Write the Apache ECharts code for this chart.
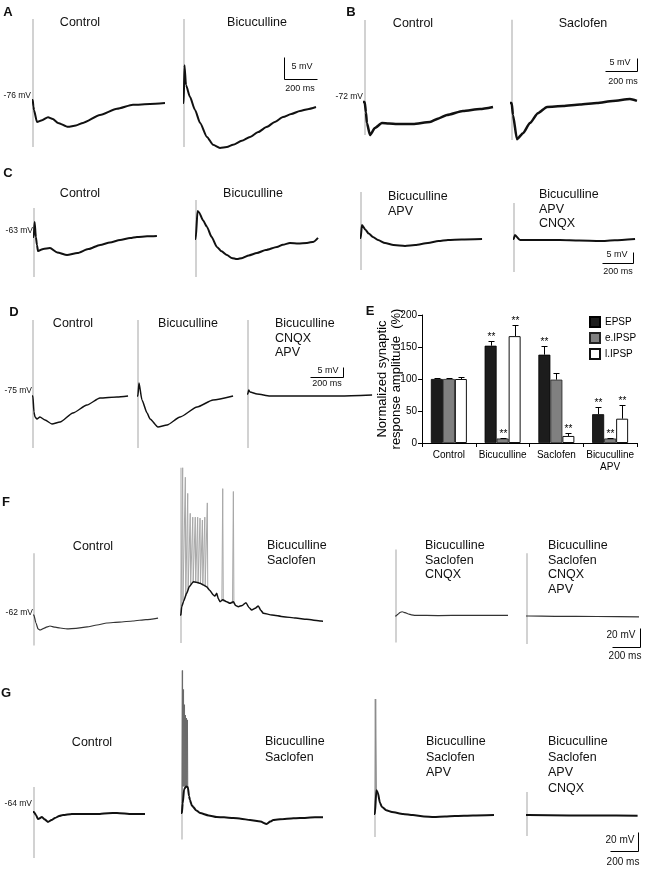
<!DOCTYPE html>
<html><head><meta charset="utf-8">
<script src="https://cdn.jsdelivr.net/npm/echarts/dist/echarts.min.js"></script>
<style>html,body{margin:0;padding:0;background:#fff}#c{width:645px;height:870px}</style>
</head><body><div id="c"></div>
<script>
// ---------------- Panel E (bar chart) data ----------------
const E_CATEGORIES = ['Control', 'Bicuculline', 'Saclofen', 'Bicuculline\nAPV'];
const E_SERIES = ['EPSP', 'e.IPSP', 'l.IPSP'];
const EPSP = [100, 152, 138, 45];
const EPSP_ERR = [2, 7, 13, 11];
const EPSP_SIG = [0, 1, 1, 1];
const EIPSP = [100, 7, 99, 7];
const EIPSP_ERR = [1, 1, 10, 1];
const EIPSP_SIG = [0, 1, 0, 1];
const LIPSP = [100, 167, 11, 38];
const LIPSP_ERR = [3, 17, 4, 22];
const LIPSP_SIG = [0, 1, 1, 1];
const E_TICKS = [0, 50, 100, 150, 200];

// ---------------- Traces: [time (ms), mV relative to rest] ----------------
// Panel A
const A1 = [[-18,0],[-2,0],[3,-1.5],[6,-2.3],[24,-5.0],[55,-4.6],[91,-3.9],[120,-4.3],[152,-5.2],[212,-6.1],[260,-5.8],[303,-5.2],[406,-3.4],[509,-2.0],[606,-1.1],[709,-0.9],[800,-0.7]];
const A1_ART = [18.4, -10.7];
const A2 = [[-12,0],[-2,0],[3,8.6],[12,4.1],[36,1.4],[67,-1.6],[97,-4.5],[139,-7.7],[176,-9.5],[218,-10.2],[260,-10.0],[297,-9.5],[350,-8.6],[400,-7.7],[450,-6.6],[503,-5.4],[550,-4.3],[600,-3.2],[650,-2.5],[703,-1.8],[750,-1.4],[800,-0.9]];
const A2_ART = [19.1, -10.0];
// Panel B
const B1 = [[-19,0],[-2,0],[6,-4],[12,-8.1],[31,-12.7],[62,-10.0],[106,-8.1],[150,-8.3],[200,-8.5],[300,-8.5],[406,-7.7],[460,-6.3],[512,-5.0],[612,-3.5],[719,-2.7],[800,-1.9]];
const B1_ART = [31.5, -12.7];
const B2 = [[-19,0],[-2,0],[6,-4.6],[31,-13.9],[69,-11.6],[112,-7.7],[162,-3.9],[219,-1.5],[319,-1.2],[425,-0.6],[531,0],[630,0.8],[737,1.5],[781,0.8]];
const B2_ART = [32, -14.2];
// Panel C
const C1 = [[-58,0],[-2,0],[4,6.8],[12,0],[19,-3.6],[26,-6.4],[60,-5.4],[103,-5.0],[150,-7.0],[213,-8.2],[280,-7.3],[350,-5.5],[426,-3.6],[490,-2.5],[555,-1.4],[620,-0.5],[664,0],[730,0.3],[793,0.5]];
const C1_ART = [13.2, -18.2];
const C2 = [[-71,0],[-2,0],[10,12.7],[19,12.2],[45,8.5],[71,5.5],[100,1.0],[135,-3.6],[165,-5.6],[200,-7.3],[230,-8.6],[264,-9.1],[300,-8.6],[340,-7.5],[393,-6.4],[450,-5.0],[522,-3.6],[560,-2.6],[606,-1.8],[660,-2.0],[716,-1.8],[760,-1.2],[787,0.5]];
const C2_ART = [17.7, -17.3];
const C3 = [[-71,0],[-2,0],[6,5.9],[30,3.6],[50,2.0],[77,0.5],[110,-0.9],[155,-2.3],[210,-3.2],[284,-3.6],[350,-3.2],[432,-2.3],[500,-1.4],[561,-0.9],[650,-0.7],[781,-0.5]];
const C3_ART = [20.9, -14.5];
const C4 = [[-58,0],[-2,0],[6,1.8],[39,-0.5],[150,-0.5],[297,-0.5],[420,-0.7],[555,-0.9],[650,-0.6],[781,0]];
const C4_ART = [16.4, -15];
// Panel D
const D1 = [[-6,0],[-1,0],[6,-8],[12,-10.5],[24,-11.5],[42,-10.5],[73,-12],[115,-14],[164,-13],[242,-8.5],[327,-4.5],[406,-1],[509,-0.5],[576,0]];
const D1_ART = [38, -26];
const D2 = [[-6,0],[-1,0],[6,6.5],[24,-2],[55,-8.5],[73,-11.5],[121,-15.5],[176,-14.5],[255,-10.5],[358,-5.5],[455,-2],[576,0]];
const D2_ART = [38, -26];
const D3 = [[-6,0],[-1,0],[4,2],[12,1],[55,0],[133,-1],[315,-1],[558,-1],[752,-0.5]];
const D3_ART = [37, -27];
// Panel F
const F1 = [[-14,0],[-1,0],[14,-8.4],[29,-14.7],[43,-15.8],[70,-14],[93,-12.6],[114,-11.6],[150,-12.8],[186,-13.7],[236,-14.7],[300,-14],[379,-12.6],[450,-10.5],[521,-8.4],[610,-7.4],[707,-6.3],[800,-4.8],[886,-3.2]];
const F1_ART = [65, -32];
const F2 = [[-21,0],[-1,0],[5,8.8],[20,15],[40,22.8],[60,30],[88,35],[110,34.5],[136,33.3],[160,31.5],[183,29.8],[205,26],[231,21],[243,20],[255,22.8],[267,17],[279,14],[298,16],[326,14],[350,12.3],[374,14],[390,10],[409,8.8],[437,10],[464,13],[485,8],[505,5.3],[530,7],[552,9.5],[570,5],[588,1.8],[650,0],[731,-1.8],[820,-3.2],[898,-4.6],[1000,-6.3],[1064,-7.4],[1200,-8.5],[1385,-9.5]];
const F2_ART = [155, -29.5];
const F2_BURST = [[0,0],[12,155],[14,15],[31,145],[34,20],[48,128],[51,27],[66,107],[69,32],[84,103],[87,35],[102,103],[105,35],[119,103],[122,34],[136,102],[139,33],[153,100],[156,32],[170,103],[173,31],[188,118],[191,29]];
const F2_SPIKE2 = [[292,15],[298,133],[302,14]];
const F2_SPIKE3 = [[368,12],[374,130],[378,12]];
const F3 = [[-21,0],[-1,0],[6,1],[16,2.1],[30,3.8],[45,4.5],[65,3.5],[88,2.1],[110,1.2],[136,0.7],[300,0.5],[500,0.7],[800,0.7]];
const F3_ART = [70, -28];
const F4 = [[-14,0],[-1,0],[10,0],[200,-0.3],[500,-0.5],[800,-1.0]];
const F4_ART = [66, -29.5];
// Panel G
const G1 = [[-29,0],[-1,0],[14,-3.2],[29,-7.4],[57,-5.3],[78,-8],[100,-10.5],[125,-8.5],[150,-6.3],[180,-4.2],[207,-3.2],[270,-2.1],[350,-2.1],[471,-2.1],[530,-1.2],[593,-1],[700,-2.1],[793,-2.1]];
const G1_ART = [26.3, -48.4];
const G2 = [[-50,0],[-1,0],[5,10],[15,25],[30,28],[42,27],[50,18],[57,13.7],[70,8],[81,6.3],[100,3],[129,0],[190,-2.5],[248,-4.2],[300,-4.6],[366,-5.3],[420,-6],[486,-7.4],[560,-9],[605,-11.6],[630,-9],[652,-7.4],[750,-6],[843,-5.3],[950,-4.6],[1057,-4.2]];
const G2_ART = [150, -28];
const G2_BURST = [[0,0],[4,150],[6,28],[11,130],[13,28],[18,114],[20,28],[25,103],[27,28],[32,100],[34,28],[39,98],[41,27]];
const G3 = [[-64,0],[-1,0],[10,25],[21,22.1],[35,12],[50,7.4],[80,4],[121,2.1],[200,0],[271,-1.1],[350,-2.5],[421,-3.2],[500,-2.5],[571,-2.1],[700,-1.6],[850,-1.1]];
const G3_ART = [121, -24.2];
const G3_SPIKE = [[1,0],[5,121],[10,25]];
const G4 = [[-29,0],[-1,0],[10,0],[300,-0.5],[500,-0.5],[790,-0.8]];
const G4_ART = [24.2, -22.1];

// scale bars (ms, mV)
const SCALE_MS = 200;

// ---------------- layout ----------------
const FONT = "'Liberation Sans', Arial, Helvetica, sans-serif";
const INK = '#111';
const ART = '#b4b4b4';

const panels = [
  {x0:33,  y0:100, sx:0.165, sy:4.4,  tr:A1, art:A1_ART, lw:2},
  {x0:184, y0:103, sx:0.165, sy:4.4,  tr:A2, art:A2_ART, lw:2},
  {x0:365, y0:102, sx:0.16,  sy:2.6,  tr:B1, art:B1_ART, lw:2.5},
  {x0:512, y0:103, sx:0.16,  sy:2.6,  tr:B2, art:B2_ART, lw:2.5},
  {x0:34,  y0:237, sx:0.155, sy:2.2,  tr:C1, art:C1_ART, lw:2},
  {x0:196, y0:239, sx:0.155, sy:2.2,  tr:C2, art:C2_ART, lw:2},
  {x0:361, y0:238, sx:0.155, sy:2.2,  tr:C3, art:C3_ART, lw:2},
  {x0:514, y0:239, sx:0.155, sy:2.2,  tr:C4, art:C4_ART, lw:2},
  {x0:33,  y0:396, sx:0.165, sy:2.0,  tr:D1, art:D1_ART, lw:1.5},
  {x0:138, y0:396, sx:0.165, sy:2.0,  tr:D2, art:D2_ART, lw:1.5},
  {x0:248, y0:394, sx:0.165, sy:2.0,  tr:D3, art:D3_ART, lw:1.5},
  {x0:34,  y0:615, sx:0.14,  sy:0.95, tr:F1, art:F1_ART, lw:1.2, color:'#333'},
  {x0:181, y0:615, sx:0.14,  sy:0.95, tr:F2, art:F2_ART, lw:1.5, extra:[F2_BURST, F2_SPIKE2, F2_SPIKE3], extraColor:'#a8a8a8'},
  {x0:396, y0:616, sx:0.14,  sy:0.95, tr:F3, art:F3_ART, lw:1.2, color:'#333'},
  {x0:527, y0:616, sx:0.14,  sy:0.95, tr:F4, art:F4_ART, lw:1.2, color:'#333'},
  {x0:34,  y0:812, sx:0.14,  sy:0.95, tr:G1, art:G1_ART, lw:2},
  {x0:182, y0:813, sx:0.14,  sy:0.95, tr:G2, art:G2_ART, lw:2, extra:[G2_BURST], extraColor:'#6a6a6a'},
  {x0:375, y0:814, sx:0.14,  sy:0.95, tr:G3, art:G3_ART, lw:2, extra:[G3_SPIKE], extraColor:'#8a8a8a'},
  {x0:527, y0:815, sx:0.14,  sy:0.95, tr:G4, art:G4_ART, lw:2}
];

const grids = [{left:422, top:315, width:215, height:128, containLabel:false, outerBoundsMode:'none'}];
const xAxes = [{
  type:'category', gridIndex:0, data:E_CATEGORIES,
  axisLine:{show:true, lineStyle:{color:'#000', width:1}},
  axisTick:{show:true, length:4, lineStyle:{color:'#000'}},
  axisLabel:{fontSize:10, color:'#000', margin:6, fontFamily:FONT, lineHeight:12, interval:0}
}];
const yAxes = [{
  type:'value', gridIndex:0, min:E_TICKS[0], max:E_TICKS[E_TICKS.length-1], interval:50,
  axisLine:{show:true, lineStyle:{color:'#000', width:1}},
  axisTick:{show:true, length:4, lineStyle:{color:'#000'}},
  splitLine:{show:false},
  axisLabel:{fontSize:10, color:'#000', margin:5, fontFamily:FONT},
  name:'Normalized synaptic\nresponse amplitude  (%)', nameLocation:'middle', nameRotate:90, nameGap:19,
  nameMoveOverlap:false,
  nameTextStyle:{fontSize:13, lineHeight:14, color:'#000', fontFamily:FONT}
}];
const series = [];
const BAR_W = 12;
const barStyle = [
  {color:'#1c1c1c', borderColor:'#000', borderWidth:0.8},
  {color:'#808080', borderColor:'#222', borderWidth:0.8},
  {color:'#ffffff', borderColor:'#111', borderWidth:1}
];
const vals = [EPSP, EIPSP, LIPSP], errs = [EPSP_ERR, EIPSP_ERR, LIPSP_ERR], sigs = [EPSP_SIG, EIPSP_SIG, LIPSP_SIG];
E_SERIES.forEach((n, s) => {
  series.push({type:'bar', name:n, xAxisIndex:0, yAxisIndex:0, data:vals[s], barWidth:BAR_W, barGap:'0%',
    itemStyle:barStyle[s], animation:false, silent:true});
});
const errData = [];
vals.forEach((arr, s) => arr.forEach((v, i) => errData.push([i, s, v, errs[s][i], sigs[s][i]])));
series.push({
  type:'custom', xAxisIndex:0, yAxisIndex:0, data:errData, encode:{x:0, y:2}, z:5, silent:true, animation:false, clip:false,
  renderItem:(params, api) => {
    const cat = api.value(0), s = api.value(1), v = api.value(2), e = api.value(3), sig = api.value(4);
    const b = api.coord([cat, v]), t = api.coord([cat, v + e]);
    const x = Math.round(b[0] + (s - 1) * BAR_W) + 0.5;
    const ty = Math.round(t[1]) + 0.5;
    const ch = [
      {type:'line', shape:{x1:x, y1:b[1], x2:x, y2:ty}, style:{stroke:'#000', lineWidth:1}},
      {type:'line', shape:{x1:x-3, y1:ty, x2:x+3, y2:ty}, style:{stroke:'#000', lineWidth:1}}
    ];
    if (sig) ch.push({type:'text', x:x, y:ty - 4, style:{text:'**', fontSize:10, fontFamily:FONT, fill:'#000',
      align:'center', verticalAlign:'middle', textAlign:'center', textVerticalAlign:'middle'}});
    return {type:'group', children:ch};
  }
});

panels.forEach(p => {
  const gi = grids.length;
  grids.push({left:p.x0, top:p.y0 - 10 * p.sy, width:1000 * p.sx, height:10 * p.sy, containLabel:false, outerBoundsMode:'none'});
  xAxes.push({type:'value', gridIndex:gi, min:0, max:1000, show:false});
  yAxes.push({type:'value', gridIndex:gi, min:0, max:10, show:false});
  const common = {type:'line', xAxisIndex:gi, yAxisIndex:gi, symbol:'none', showSymbol:false, clip:false, silent:true, animation:false};
  series.push(Object.assign({}, common, {data:[[0, p.art[0]], [0, p.art[1]]], z:1, lineStyle:{color:ART, width:1.2}}));
  (p.extra || []).forEach(d => series.push(Object.assign({}, common, {data:d, z:2, lineStyle:{color:p.extraColor, width:1}})));
  series.push(Object.assign({}, common, {data:p.tr, z:3, smooth:0.2, smoothMonotone:'x', lineStyle:{color:p.color || INK, width:p.lw, join:'round'}}));
});

// ---------------- text / annotation helpers ----------------
function T(text, x, y, size, o) {
  const st = Object.assign({text:text, fontSize:size, fontFamily:FONT, fill:'#111',
    align:'left', verticalAlign:'middle', textAlign:'left', textVerticalAlign:'middle'}, o || {});
  if (o && o.align) st.textAlign = o.align;
  return {type:'text', x:x, y:y, silent:true, z:20, style:st};
}
function C(text, x, y, size, o) { return T(text, x, y, size, Object.assign({align:'center'}, o || {})); }
function ML(lines, x, yFirst, size, lh) {
  return T(lines.join('\n'), x, yFirst - lh / 2, size, {lineHeight:lh, verticalAlign:'top', textVerticalAlign:'top'});
}
function R(text, x, y, size) { return T(text, x, y, size, {align:'right'}); }
function scaleBar(cx, cy, sx, sy, mv, side) {
  const w = SCALE_MS * sx, h = mv * sy;
  const pts = side === 'L' ? [[cx, cy - h], [cx, cy], [cx + w, cy]] : [[cx - w, cy], [cx, cy], [cx, cy - h]];
  return {type:'polyline', shape:{points:pts}, style:{stroke:'#000', lineWidth:1, fill:null}, silent:true, z:20};
}
const L = 13, S = 12.5, MV = 8.5, SB = 9, SB2 = 10;
const graphics = [
  C('A', 8, 12, L, {fontWeight:'bold'}), C('B', 351, 12, L, {fontWeight:'bold'}),
  C('C', 8, 173, L, {fontWeight:'bold'}), C('D', 14, 312, L, {fontWeight:'bold'}),
  C('E', 370, 311, L, {fontWeight:'bold'}), C('F', 6, 502, L, {fontWeight:'bold'}),
  C('G', 6, 693, L, {fontWeight:'bold'}),
  // A
  C('Control', 80, 23, S), C('Bicuculline', 257, 23, S), R('-76 mV', 31, 96, MV),
  scaleBar(284.5, 79.5, 0.165, 4.4, 5, 'L'), C('5 mV', 302, 67, SB), C('200 ms', 300, 89, SB),
  // B
  C('Control', 413, 24, S), C('Saclofen', 583, 24, S), R('-72 mV', 363, 97, MV),
  scaleBar(637.5, 71.5, 0.16, 2.6, 5, 'R'), C('5 mV', 620, 63, SB), C('200 ms', 623, 82, SB),
  // C
  C('Control', 80, 194, S), C('Bicuculline', 253, 194, S),
  ML(['Bicuculline', 'APV'], 388, 197, S, 14.5), ML(['Bicuculline', 'APV', 'CNQX'], 539, 195, S, 14.5),
  R('-63 mV', 33, 231, MV),
  scaleBar(633.5, 263.5, 0.155, 2.2, 5, 'R'), C('5 mV', 617, 255, SB), C('200 ms', 618, 272, SB),
  // D
  C('Control', 73, 324, S), C('Bicuculline', 188, 324, S), ML(['Bicuculline', 'CNQX', 'APV'], 275, 324, S, 14.5),
  R('-75 mV', 32, 391, MV),
  scaleBar(343.5, 377.5, 0.165, 2.0, 5, 'R'), C('5 mV', 328, 371, SB), C('200 ms', 327, 384, SB),
  // F
  C('Control', 93, 547, S), ML(['Bicuculline', 'Saclofen'], 267, 546, S, 14.5),
  ML(['Bicuculline', 'Saclofen', 'CNQX'], 425, 546, S, 14.5),
  ML(['Bicuculline', 'Saclofen', 'CNQX', 'APV'], 548, 546, S, 14.5),
  R('-62 mV', 33, 613, MV),
  scaleBar(640.5, 647.5, 0.14, 0.95, 20, 'R'), C('20 mV', 621, 635, SB2), C('200 ms', 625, 656, SB2),
  // G
  C('Control', 92, 743, S), ML(['Bicuculline', 'Saclofen'], 265, 742, S, 15.5),
  ML(['Bicuculline', 'Saclofen', 'APV'], 426, 742, S, 15.5),
  ML(['Bicuculline', 'Saclofen', 'APV', 'CNQX'], 548, 742, S, 15.5),
  R('-64 mV', 32, 804, MV),
  scaleBar(638.5, 851.5, 0.14, 0.95, 20, 'R'), C('20 mV', 620, 840, SB2), C('200 ms', 623, 862, SB2)
];

const chart = echarts.init(document.getElementById('c'), null, {renderer:'canvas', width:645, height:870});
chart.setOption({
  backgroundColor:'#fff',
  animation:false,
  textStyle:{fontFamily:FONT},
  legend:{data:E_SERIES, orient:'vertical', left:589, top:316, itemWidth:10, itemHeight:10, itemGap:4, icon:'rect',
    padding:0, selectedMode:false, textStyle:{fontSize:10, fontFamily:FONT, color:'#000'}},
  grid:grids, xAxis:xAxes, yAxis:yAxes, series:series, graphic:graphics
});
</script></body></html>
